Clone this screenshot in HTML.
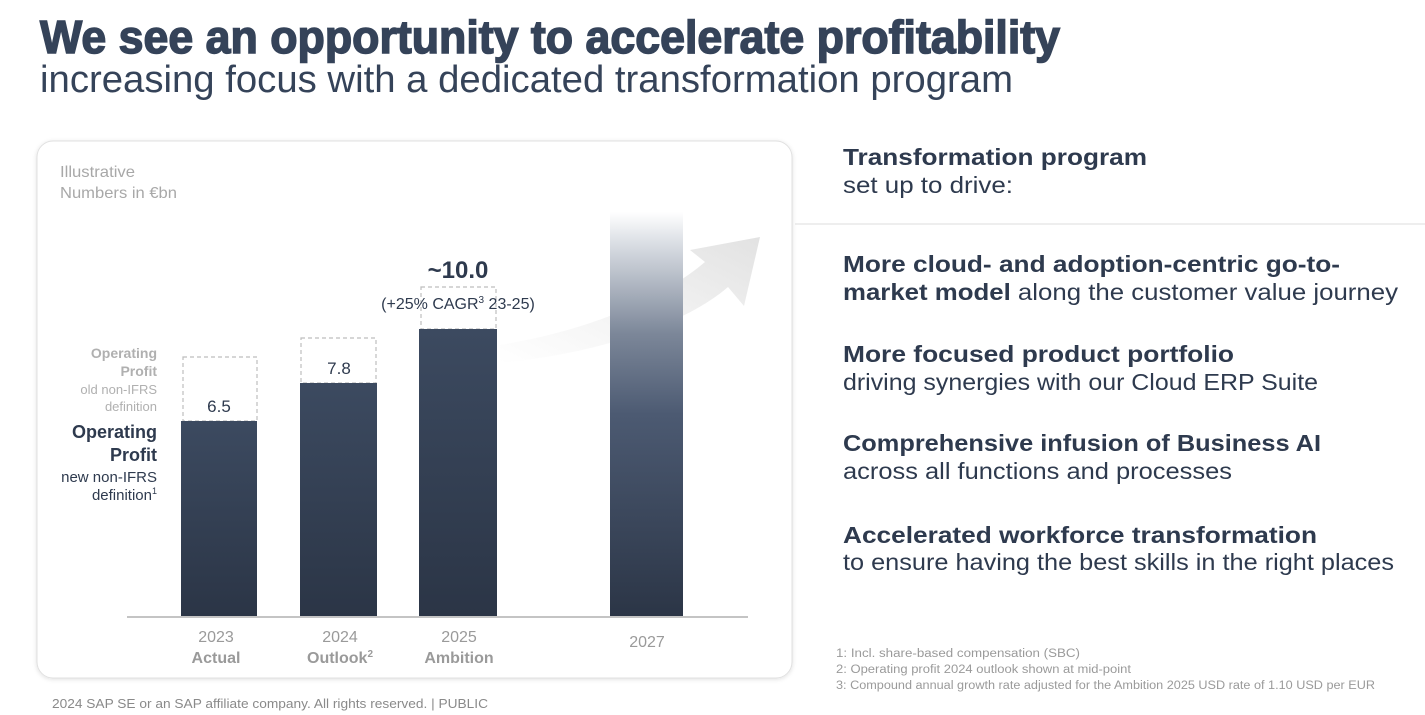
<!DOCTYPE html>
<html><head><meta charset="utf-8"><style>
html,body{margin:0;padding:0;background:#fff;}
svg{display:block;font-family:"Liberation Sans",sans-serif;}
</style></head><body>
<svg width="1425" height="715" viewBox="0 0 1425 715" xmlns="http://www.w3.org/2000/svg">
<defs>
<linearGradient id="bar" x1="0" y1="0" x2="0" y2="1">
<stop offset="0" stop-color="#3c4a60"/><stop offset="1" stop-color="#2b3546"/></linearGradient>
<linearGradient id="bar27" x1="0" y1="0" x2="0" y2="1">
<stop offset="0" stop-color="#ffffff"/><stop offset="0.08" stop-color="#d9dde3"/><stop offset="0.3" stop-color="#7c8799"/><stop offset="0.5" stop-color="#4c5a72"/><stop offset="1" stop-color="#2b3546"/></linearGradient>
<linearGradient id="arr" x1="0" y1="1" x2="1" y2="0">
<stop offset="0" stop-color="#ffffff"/><stop offset="0.6" stop-color="#efefef"/><stop offset="1" stop-color="#e2e2e2"/></linearGradient>
<filter id="sh" x="-5%" y="-5%" width="110%" height="110%"><feDropShadow dx="0" dy="1" stdDeviation="2" flood-color="#000" flood-opacity="0.12"/></filter>
</defs>
<text x="40" y="53" font-size="46" font-weight="900" fill="#354359" textLength="1020" lengthAdjust="spacingAndGlyphs" stroke="#354359" stroke-width="1.5">We see an opportunity to accelerate profitability</text>
<text x="40" y="92" font-size="38" fill="#354359" textLength="973" lengthAdjust="spacingAndGlyphs">increasing focus with a dedicated transformation program</text>

<rect x="37" y="141" width="755" height="537" rx="16" fill="#fff" stroke="#e0e0e0" filter="url(#sh)"/>
<text x="60" y="177" font-size="16" fill="#a8a8a8" textLength="75" lengthAdjust="spacingAndGlyphs">Illustrative</text>
<text x="60" y="198" font-size="16" fill="#a8a8a8" textLength="117" lengthAdjust="spacingAndGlyphs">Numbers in €bn</text>

<path d="M500 345 C590 330 660 300 705 262 L690 250 L760 237 L744 306 L728 287 C690 320 610 352 500 363 Z" fill="url(#arr)"/>

<g text-anchor="end">
<text x="157" y="358" font-size="14" font-weight="bold" fill="#b0b0b0">Operating</text>
<text x="157" y="376" font-size="14" font-weight="bold" fill="#b0b0b0">Profit</text>
<text x="157" y="394" font-size="13" fill="#b0b0b0">old non-IFRS</text>
<text x="157" y="411" font-size="13" fill="#b0b0b0">definition</text>
<text x="157" y="438" font-size="18" font-weight="bold" fill="#2e3a4e">Operating</text>
<text x="157" y="461" font-size="18" font-weight="bold" fill="#2e3a4e">Profit</text>
<text x="157" y="482" font-size="15" fill="#2e3a4e">new non-IFRS</text>
<text x="157" y="500" font-size="15" fill="#2e3a4e">definition<tspan font-size="9" dy="-6">1</tspan></text>
</g>

<g fill="none" stroke="#bdbdbd" stroke-dasharray="4,3" stroke-width="1.2">
<rect x="183" y="357" width="74" height="64"/>
<rect x="301" y="338" width="75" height="45"/>
<rect x="421" y="287" width="75" height="42"/>
</g>
<rect x="181" y="421" width="76" height="196" fill="url(#bar)"/>
<rect x="300" y="383" width="77" height="234" fill="url(#bar)"/>
<rect x="419" y="329" width="78" height="288" fill="url(#bar)"/>
<rect x="610" y="212" width="73" height="405" fill="url(#bar27)"/>
<line x1="127" y1="617" x2="748" y2="617" stroke="#c4c4c4" stroke-width="2"/>

<g text-anchor="middle">
<text x="219" y="412" font-size="17" fill="#2e3a4e">6.5</text>
<text x="339" y="374" font-size="17" fill="#2e3a4e">7.8</text>
<text x="458" y="278" font-size="24" font-weight="bold" fill="#2e3a4e">~10.0</text>
<text x="458" y="309" font-size="16" fill="#2e3a4e">(+25% CAGR<tspan font-size="10" dy="-6">3</tspan><tspan dy="6"> 23-25)</tspan></text>
<text x="216" y="642" font-size="16" fill="#9a9a9a">2023</text>
<text x="216" y="663" font-size="16" font-weight="bold" fill="#9a9a9a">Actual</text>
<text x="340" y="642" font-size="16" fill="#9a9a9a">2024</text>
<text x="340" y="663" font-size="16" font-weight="bold" fill="#9a9a9a">Outlook<tspan font-size="10" dy="-6">2</tspan></text>
<text x="459" y="642" font-size="16" fill="#9a9a9a">2025</text>
<text x="459" y="663" font-size="16" font-weight="bold" fill="#9a9a9a">Ambition</text>
<text x="647" y="647" font-size="16" fill="#9a9a9a">2027</text>
</g>

<line x1="795" y1="224" x2="1425" y2="224" stroke="#dcdcdc" stroke-width="1"/>
<g fill="#2e3a4e">
<text x="843" y="165" font-size="23" font-weight="bold" textLength="304" lengthAdjust="spacingAndGlyphs">Transformation program</text>
<text x="843" y="193" font-size="23" textLength="170" lengthAdjust="spacingAndGlyphs">set up to drive:</text>
<text x="843" y="272" font-size="23" font-weight="bold" textLength="497" lengthAdjust="spacingAndGlyphs">More cloud- and adoption-centric go-to-</text>
<text x="843" y="300" font-size="23" textLength="555" lengthAdjust="spacingAndGlyphs"><tspan font-weight="bold">market model</tspan> along the customer value journey</text>
<text x="843" y="362" font-size="23" font-weight="bold" textLength="391" lengthAdjust="spacingAndGlyphs">More focused product portfolio</text>
<text x="843" y="390" font-size="23" textLength="475" lengthAdjust="spacingAndGlyphs">driving synergies with our Cloud ERP Suite</text>
<text x="843" y="451" font-size="23" font-weight="bold" textLength="478" lengthAdjust="spacingAndGlyphs">Comprehensive infusion of Business AI</text>
<text x="843" y="479" font-size="23" textLength="389" lengthAdjust="spacingAndGlyphs">across all functions and processes</text>
<text x="843" y="543" font-size="23" font-weight="bold" textLength="474" lengthAdjust="spacingAndGlyphs">Accelerated workforce transformation</text>
<text x="843" y="570" font-size="23" textLength="551" lengthAdjust="spacingAndGlyphs">to ensure having the best skills in the right places</text>
</g>
<g fill="#9a9a9a" font-size="11.5">
<text x="836" y="657" textLength="244" lengthAdjust="spacingAndGlyphs">1: Incl. share-based compensation (SBC)</text>
<text x="836" y="673" textLength="295" lengthAdjust="spacingAndGlyphs">2: Operating profit 2024 outlook shown at mid-point</text>
<text x="836" y="689" textLength="539" lengthAdjust="spacingAndGlyphs">3: Compound annual growth rate adjusted for the Ambition 2025 USD rate of 1.10 USD per EUR</text>
</g>
<text x="52" y="708" font-size="13" fill="#8a8a8a" textLength="436" lengthAdjust="spacingAndGlyphs">2024 SAP SE or an SAP affiliate company. All rights reserved.  | PUBLIC</text>
</svg>
</body></html>
